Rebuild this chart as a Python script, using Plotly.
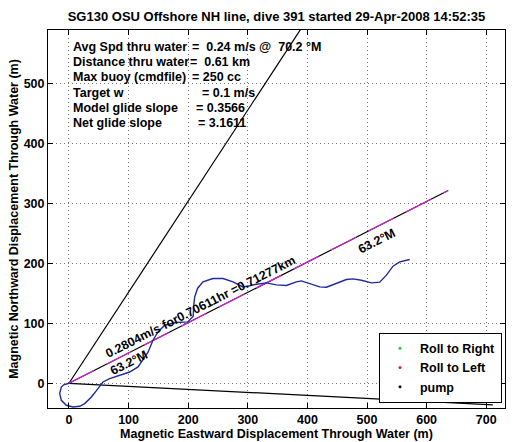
import plotly.graph_objects as go
import math

# ---------------- data ----------------
track_east = [0, -8.9, -12.8, -15.6, -12.8, -4.4, 6.7, 18.0, 26.4, 37.6, 48.7, 57.0, 68.3, 85.1,
              101.8, 115.8, 124.2, 132.6, 140.9, 149.3, 160.6, 180.2, 199.2, 208.4, 209.2, 210.9,
              215.9, 224.8, 241.6, 258.4, 275.2, 291.9, 303.2, 314.4, 331.2, 348.0, 364.8, 381.5,
              389.9, 403.9, 420.6, 431.9, 448.7, 465.4, 476.5, 490.6, 507.4, 521.3, 532.6, 543.6,
              554.9, 571.6]
track_north = [0, -2.5, -6.2, -16.7, -28.4, -36.7, -39.5, -38.4, -33.9, -22.9, -8.8, 2.2, 7.8, 13.3,
               18.8, 27.2, 38.4, 51.7, 71.7, 85.6, 96.7, 101.3, 102.3, 111.8, 128.4, 144.0,
               158.5, 169.0, 174.6, 174.6, 169.0, 160.6, 162.6, 165.1, 167.3, 164.0, 163.0, 169.0,
               170.6, 166.3, 160.6, 160.1, 166.3, 173.0, 174.0, 171.8, 167.3, 168.5, 180.2, 195.2,
               202.3, 206.3]

steep_line_east = [0, 388]
steep_line_north = [0, 589]
shallow_line_east = [0, 711]
shallow_line_north = [0, -36]

heading_deg = 63.2
distance_km = 0.71277
speed_ms = 0.2804
duration_hr = 0.70611

info_labels = ["Avg Spd thru water", "Distance thru water", "Max buoy (cmdfile)",
               "Target w", "Model glide slope", "Net glide slope"]
info_values = ["=\u00a0 0.24 m/s @\u00a0 70.2 \u00b0M", "=\u00a0 0.61 km", "= 250 cc",
               "= 0.1 m/s", "= 0.3566", "= 3.1611"]

x_ticks = [0, 100, 200, 300, 400, 500, 600, 700]
y_ticks = [0, 100, 200, 300, 400, 500]

title_text = "SG130 OSU Offshore NH line, dive 391 started 29-Apr-2008 14:52:35"
x_title = "Magnetic Eastward Displacement Through Water (m)"
y_title = "Magnetic Northward Displacement Through Water (m)"

# ---------------- figure ----------------
FONT = "Liberation Sans, Arial, Helvetica, sans-serif"
BOLD = lambda s=12.5: dict(family=FONT, size=s, color="black", weight="bold")
fig = go.Figure()

dist_m = distance_km * 1000
head_east = [0, dist_m * math.sin(math.radians(heading_deg))]
head_north = [0, dist_m * math.cos(math.radians(heading_deg))]

fig.add_trace(go.Scatter(x=steep_line_east, y=steep_line_north, mode="lines",
                         line=dict(color="black", width=1.2), showlegend=False, hoverinfo="skip"))
fig.add_trace(go.Scatter(x=shallow_line_east, y=shallow_line_north, mode="lines",
                         line=dict(color="black", width=1.2), showlegend=False, hoverinfo="skip"))
fig.add_trace(go.Scatter(x=head_east, y=head_north, mode="lines",
                         line=dict(color="black", width=1.2), showlegend=False, hoverinfo="skip"))
fig.add_trace(go.Scatter(x=head_east, y=head_north, mode="lines",
                         line=dict(color="#e020e0", width=1.2, dash="28px,14px"),
                         showlegend=False, hoverinfo="skip"))
fig.add_trace(go.Scatter(x=track_east, y=track_north, mode="lines",
                         line=dict(color="#1f2a9e", width=1.4), showlegend=False))

for name, col in [("Roll to Right", "#22cc22"), ("Roll to Left", "#dd2222"), ("pump", "black")]:
    fig.add_trace(go.Scatter(x=[None], y=[None], mode="markers", name=name,
                             marker=dict(color=col, size=3)))

ann = []
angle = -math.degrees(math.atan2(head_north[1], head_east[1]))
ann.append(dict(x=220.6, y=127.5, xref="x", yref="y", showarrow=False, textangle=angle,
                text=f"{speed_ms}m/s for{duration_hr}hr ={distance_km}km",
                font=BOLD(), xanchor="center", yanchor="middle"))
ann.append(dict(x=99.9, y=34.2, xref="x", yref="y", showarrow=False, textangle=angle,
                text=f"{heading_deg}\u00b0M", font=BOLD(), xanchor="center", yanchor="middle"))
ann.append(dict(x=517.1, y=236.9, xref="x", yref="y", showarrow=False, textangle=angle,
                text=f"{heading_deg}\u00b0M", font=BOLD(), xanchor="center", yanchor="middle"))

value_x = [202.5, 199.0, 202.5, 220.5, 209.2, 213.8]
for i, (lab, val) in enumerate(zip(info_labels, info_values)):
    yy = 560.5 - i * 25.35
    ann.append(dict(x=4.0, y=yy, xref="x", yref="y", showarrow=False, text=lab,
                    xanchor="left", yanchor="middle", font=BOLD()))
    ann.append(dict(x=value_x[i], y=yy, xref="x", yref="y", showarrow=False, text=val,
                    xanchor="left", yanchor="middle", font=BOLD()))

fig.update_layout(
    width=514, height=442,
    margin=dict(l=48, r=9, t=30, b=34, autoexpand=False),
    paper_bgcolor="white", plot_bgcolor="white",
    font=BOLD(),
    title=dict(text=title_text, x=0.5, xref="paper", y=1 - 16 / 442, yref="container",
               xanchor="center", yanchor="middle", font=BOLD(13)),
    annotations=ann,
    showlegend=True,
    legend=dict(x=0.9934, y=0.0143, xanchor="right", yanchor="bottom",
                bgcolor="white", bordercolor="black", borderwidth=1,
                font=BOLD(12.5), itemwidth=30, tracegroupgap=0),
)

axis_common = dict(showline=True, linecolor="black", linewidth=1, mirror="ticks",
                   ticks="inside", ticklen=5, tickcolor="black", showgrid=True,
                   gridcolor="#777777", griddash="1px,3px", gridwidth=1, zeroline=False,
                   tickfont=BOLD())

fig.update_xaxes(range=[-35.2, 731.5], tickvals=x_ticks, ticktext=[str(v) for v in x_ticks],
                 title=dict(text=x_title, font=BOLD(), standoff=1), **axis_common)
fig.update_yaxes(range=[-41.2, 588.8], tickvals=y_ticks, ticktext=[str(v) for v in y_ticks],
                 title=dict(text=y_title, font=BOLD(), standoff=2), **axis_common)

fig.write_html("out.html", config={"displayModeBar": False},
               post_script="document.body.style.margin='0';document.body.style.overflow='hidden';")
